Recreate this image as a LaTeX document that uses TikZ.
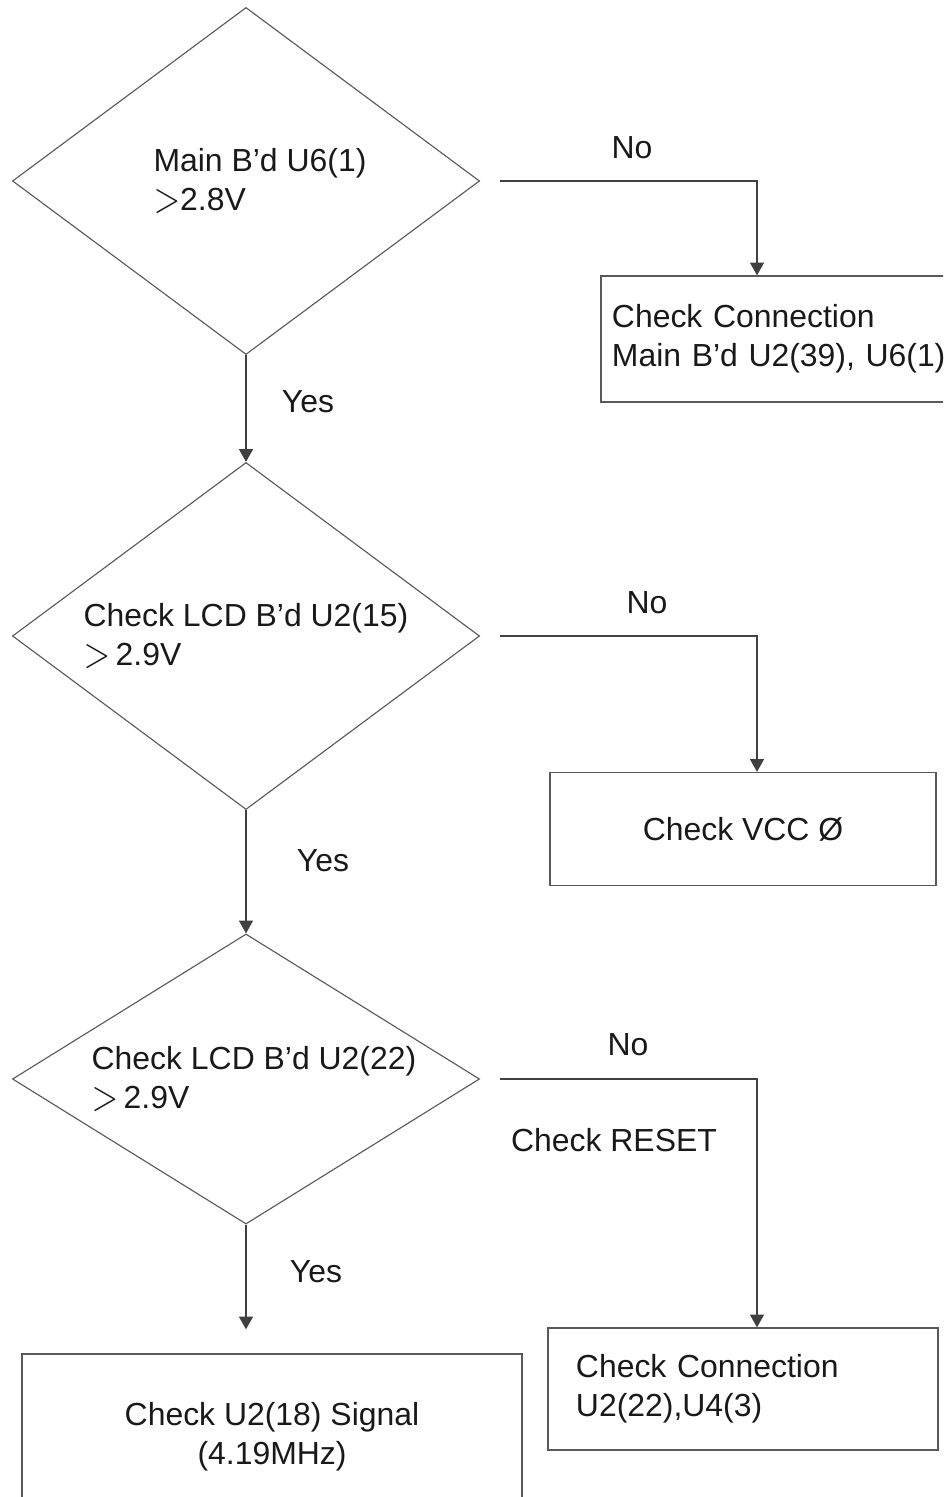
\documentclass[tikz,border=0pt]{standalone}
\usepackage{fontspec}
\setmainfont{Liberation Sans}
\usetikzlibrary{shapes.geometric,arrows.meta}

\newcommand{\gtsign}{\raisebox{-0.05em}{\scalebox{1.2}[1.5]{$>$}}}

\begin{document}
\begin{tikzpicture}[
    x=0.025cm, y=-0.025cm,
    every node/.style={
        font=\fontsize{22.7pt}{27.7pt}\selectfont,
        text=black!90
    },
    decision/.style={
        diamond,
        aspect=1.35,
        minimum width=11.675cm,
        minimum height=8.675cm,
        inner sep=0pt,
        draw=black!65,
        line width=0.8pt,
        align=left
    },
    panel/.style={
        rectangle,
        draw=black!65,
        line width=0.9pt,
        inner sep=0pt
    },
    flow/.style={
        draw=black!75,
        line width=1pt,
        -{Triangle[width=0.35cm,length=0.32cm]}
    },
    tag/.style={inner sep=0pt}
]

\useasboundingbox (0,0) rectangle (943,1497);
\clip (0,0) rectangle (943,1497);

\node[decision] (d1) at (246,181) {\hspace*{0.7cm}Main B’d U6(1)\\\hspace*{0.7cm}\gtsign2.8V};
\node[decision] (d2) at (246,636) {Check LCD B’d U2(15)\\\gtsign\,2.9V};
\node[decision, aspect=1.61, minimum height=7.25cm] (d3) at (246,1079) {\hspace*{0.4cm}Check LCD B’d U2(22)\\\hspace*{0.4cm}\gtsign\,2.9V};

\node[panel, text width=8.6cm, inner xsep=0.275cm, minimum height=3.15cm, align=left] (b1) at (784,339) {Check Connection\\Main B’d U2(39), U6(1)};
\node[panel, minimum width=9.65cm, minimum height=2.825cm] (b2) at (743,829) {Check VCC Ø};
\node[panel, text width=8.35cm, inner xsep=0.7cm, minimum height=3.05cm, align=left] (b3) at (743,1389) {Check Connection\\U2(22),U4(3)};
\node[panel, minimum width=12.5cm, minimum height=4.15cm, align=center] (b4) at (272,1437) {Check U2(18) Signal\\(4.19MHz)};

\coordinate (drop) at (757,0);

\draw[flow] (d1) -- (d2);
\draw[flow] (d2) -- (d3);
\draw[flow, shorten >=0.6cm] (d3) -- (d3.south |- b4.north);

\draw[flow, shorten <=0.5cm] (d1.east) -| (drop |- b1.north);
\draw[flow, shorten <=0.5cm] (d2.east) -| (drop |- b2.north);
\draw[flow, shorten <=0.5cm] (d3.east) -| (drop |- b3.north);

\node[tag] (y1) at (308,402) {Yes};
\node[tag] (y2) at (323,861) {Yes};
\node[tag] (y3) at (316,1272) {Yes};
\node[tag] (n1) at (632,148) {No};
\node[tag] (n2) at (647,603) {No};
\node[tag] (n3) at (628,1045) {No};
\node[tag] (rst) at (614,1140) {Check RESET};

\end{tikzpicture}
\end{document}
